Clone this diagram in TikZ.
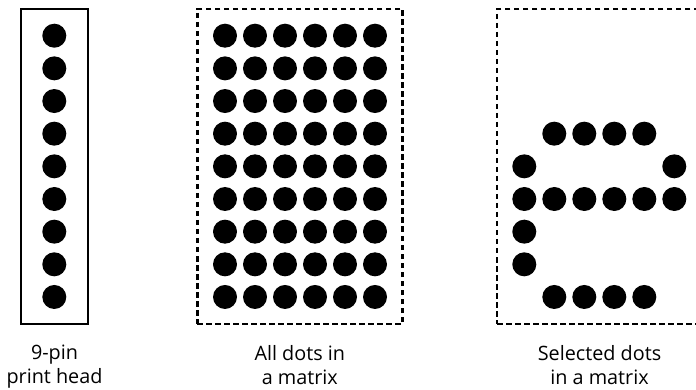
\documentclass[tikz,border=0pt]{standalone}
\usepackage{fontspec}
\setmainfont{Open Sans}
\usetikzlibrary{positioning}
\definecolor{ink}{HTML}{000000}
\tikzset{
  frame/.style={draw=ink,line width=2.2pt,inner sep=0pt,outer sep=0pt,minimum height=315pt},
  dframe/.style={frame,line width=2.4pt,dash pattern=on 5.5pt off 3.5pt},
  pin/.style={circle,fill=ink,inner sep=0pt,minimum size=24pt},
  lbl/.style={align=center,inner sep=0pt,text=ink,font=\fontsize{19.8}{24}\selectfont},
}

\begin{document}
\begin{tikzpicture}[x=1pt,y=-1pt]
  \useasboundingbox (0,0) rectangle (696,390);
  \node[frame, minimum width=67pt] (head) at (54.5,166.5) {};
  \node[dframe, minimum width=205pt] (all) at (299.8,166.5) {};
  \node[dframe, minimum width=204.5pt] (sel) at (599.5,166.5) {};
  % print head pins
  \foreach \r in {1,...,9}
    \node[pin] (h\r) at (54.3,{35.7+32.66*(\r-1)}) {};
  % every dot of the matrix
  \foreach \r in {1,...,9}
    \foreach \c in {1,...,6}
      \node[pin] (a\r\c) at ({225+30*(\c-1)},{35.7+32.66*(\r-1)}) {};
  % dots that make the letter e
  \foreach \r/\c in {4/2,4/3,4/4,4/5,5/1,5/6,6/1,6/2,6/3,6/4,6/5,6/6,7/1,8/1,9/2,9/3,9/4,9/5}
    \node[pin] (s\r\c) at ({524.3+30*(\c-1)},{35.7+32.66*(\r-1)}) {};
  \node[lbl, below=21pt of head] (headtxt) {9-pin\\print head};
  \node[lbl, below=21pt of all] (alltxt) {All dots in\\a matrix};
  \node[lbl, below=21pt of sel] (seltxt) {Selected dots\\in a matrix};
\end{tikzpicture}
\end{document}
